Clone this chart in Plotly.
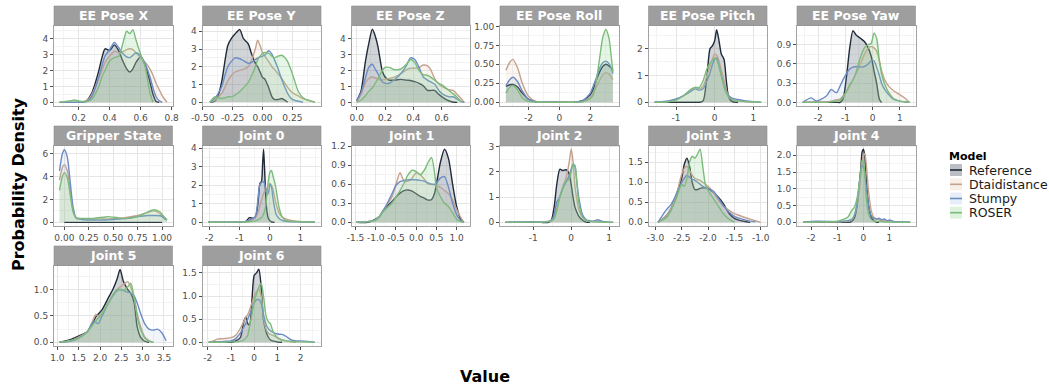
import plotly.graph_objects as go

# ---------------- data ----------------
models = ["Reference", "Dtaidistance", "Stumpy", "ROSER"]
panel_titles = ["EE Pose X", "EE Pose Y", "EE Pose Z", "EE Pose Roll", "EE Pose Pitch", "EE Pose Yaw",
                "Gripper State", "Joint 0", "Joint 1", "Joint 2", "Joint 3", "Joint 4",
                "Joint 5", "Joint 6"]
N = None

# EE Pose X
eex_x = [0.075, 0.15, 0.17, 0.20, 0.25, 0.28, 0.30, 0.33, 0.35, 0.37, 0.40, 0.43, 0.46, 0.48, 0.51, 0.53, 0.55, 0.57, 0.60, 0.63, 0.66, 0.68, 0.70, 0.72, 0.74, 0.77]
eex_ref = [0, 0, 0, 0, 0.1, 0.5, 1.0, 2.0, 2.8, 3.35, 3.25, 3.6, 3.2, 2.7, 2.1, 1.9, 2.1, 2.5, 2.85, 2.3, 1.3, 0.5, 0.05, 0, N, N]
eex_dtai = [0, 0, 0, 0, 0.1, 0.4, 0.8, 1.5, 2.0, 2.5, 2.9, 3.2, 3.1, 3.15, 3.3, 3.35, 3.3, 3.1, 2.8, 2.5, 2.1, 1.7, 1.2, 0.8, 0.4, 0]
eex_stumpy = [0, 0, 0, 0, 0.05, 0.3, 0.7, 1.6, 2.3, 2.9, 3.3, 3.75, 3.4, 3.1, 2.85, 2.8, 2.95, 3.1, 2.9, 2.4, 1.6, 0.9, 0.35, 0.1, 0, N]
eex_roser = [0, 0.1, 0.15, 0.08, 0.05, 0.15, 0.4, 1.0, 1.6, 2.0, 2.6, 2.8, 2.9, 3.5, 4.45, 4.3, 4.55, 3.9, 3.0, 2.2, 0.6, 0, N, N, N, N]
eex_ticks = [0.2, 0.4, 0.6, 0.8]
eex_labels = ["0.2", "0.4", "0.6", "0.8"]
eex_yticks = [0, 1, 2, 3, 4]
eex_ylabels = ["0", "1", "2", "3", "4"]

# EE Pose Y
eey_x = [-0.44, -0.40, -0.37, -0.34, -0.31, -0.29, -0.26, -0.23, -0.19, -0.16, -0.12, -0.09, -0.06, -0.04, -0.02, 0.0, 0.02, 0.05, 0.08, 0.10, 0.13, 0.16, 0.19, 0.21, 0.24, 0.27, 0.30, 0.34, 0.38, 0.44]
eey_ref = [0, 0.05, 0.4, 1.2, 2.5, 3.2, 3.6, 3.85, 4.1, 3.6, 3.3, 2.7, 2.2, 2.0, 1.7, 1.4, 1.3, 0.85, 0.3, 0.15, 0.15, 0.2, 0.1, 0, N, N, N, N, N, N]
eey_dtai = [0, 0.1, 0.3, 0.5, 0.9, 1.2, 1.5, 1.7, 1.8, 1.85, 2.0, 2.4, 3.0, 3.5, 3.2, 2.8, 2.6, 2.3, 2.0, 1.85, 1.6, 1.35, 1.05, 0.85, 0.6, 0.45, 0.35, 0.2, 0.12, 0]
eey_stumpy = [0, 0.2, 0.5, 0.9, 1.6, 2.0, 2.3, 2.5, 2.45, 2.35, 2.2, 2.25, 2.4, 2.5, 2.55, 2.6, 2.65, 2.9, 2.7, 2.4, 1.9, 1.3, 0.8, 0.5, 0.2, 0.1, 0.05, 0, N, N]
eey_roser = [0, 0.3, 0.25, 0.2, 0.25, 0.3, 0.3, 0.4, 0.6, 0.8, 1.1, 1.5, 2.0, 2.4, 2.6, 2.75, 2.8, 2.75, 2.6, 2.5, 2.6, 2.65, 2.5, 2.3, 1.8, 1.2, 0.6, 0.25, 0.1, 0]
eey_ticks = [-0.5, -0.25, 0.0, 0.25]
eey_labels = ["-0.50", "-0.25", "0.00", "0.25"]
eey_yticks = [0, 1, 2, 3, 4]
eey_ylabels = ["0", "1", "2", "3", "4"]

# EE Pose Z
eez_x = [0.0, 0.03, 0.06, 0.085, 0.11, 0.13, 0.15, 0.18, 0.2, 0.23, 0.27, 0.31, 0.35, 0.38, 0.41, 0.44, 0.47, 0.50, 0.52, 0.55, 0.58, 0.61, 0.65, 0.68, 0.71, 0.74, 0.76]
eez_ref = [0.1, 0.7, 2.5, 3.7, 4.6, 4.2, 3.5, 2.0, 1.6, 1.4, 1.4, 1.45, 1.4, 1.38, 1.3, 1.2, 1.05, 0.75, 0.75, 0.75, 0.5, 0.3, 0.1, 0.02, 0, N, N]
eez_dtai = [0.05, 0.5, 1.2, 1.5, 1.6, 1.55, 1.45, 1.4, 1.45, 1.5, 1.6, 1.8, 2.05, 2.15, 2.15, 2.2, 2.35, 2.3, 2.1, 1.5, 1.15, 0.95, 0.8, 0.75, 0.5, 0.2, 0]
eez_stumpy = [0.1, 0.6, 1.5, 2.2, 2.4, 2.1, 1.8, 1.3, 1.2, 1.2, 1.45, 1.8, 2.3, 2.8, 2.7, 2.2, 1.6, 1.4, 1.3, 1.15, 0.75, 0.5, 0.35, 0.35, 0.2, 0.05, 0]
eez_roser = [0, 0.15, 0.4, 0.7, 0.9, 1.2, 1.5, 2.0, 2.2, 2.2, 2.05, 2.1, 2.4, 2.7, 2.5, 2.0, 1.75, 1.7, 1.6, 1.4, 1.2, 1.05, 0.75, 0.55, 0.3, 0, N]
eez_ticks = [0.0, 0.2, 0.4, 0.6]
eez_labels = ["0.0", "0.2", "0.4", "0.6"]
eez_yticks = [0, 1, 2, 3, 4]
eez_ylabels = ["0", "1", "2", "3", "4"]

# EE Pose Roll
roll_x = [-3.46, -3.2, -3.0, -2.7, -2.4, -2.0, -1.5, -1.0, 0, 1.0, 1.5, 2.0, 2.2, 2.4, 2.6, 2.8, 3.0, 3.2, 3.35, 3.46]
roll_ref = [0.21, 0.23, 0.235, 0.2, 0.12, 0.04, 0.005, 0, 0, 0, 0.02, 0.1, 0.18, 0.3, 0.4, 0.47, 0.5, 0.48, 0.45, 0.42]
roll_dtai = [0.42, 0.53, 0.565, 0.45, 0.25, 0.08, 0.01, 0, 0, 0, 0.01, 0.06, 0.13, 0.2, 0.29, 0.36, 0.39, 0.37, 0.33, 0.3]
roll_stumpy = [0.22, 0.3, 0.33, 0.27, 0.15, 0.04, 0.005, 0, 0, 0, 0.02, 0.12, 0.22, 0.33, 0.45, 0.52, 0.54, 0.51, 0.45, 0.38]
roll_roser = [0.12, 0.2, 0.22, 0.16, 0.06, 0.01, 0, 0, 0, 0, 0.005, 0.05, 0.1, 0.3, 0.58, 0.85, 0.96, 0.85, 0.6, 0.4]
roll_ticks = [-2, 0, 2]
roll_labels = ["-2", "0", "2"]
roll_yticks = [0, 0.25, 0.5, 0.75, 1.0]
roll_ylabels = ["0.00", "0.25", "0.50", "0.75", "1.00"]

# EE Pose Pitch
pitch_x = [-1.55, -1.2, -1.0, -0.8, -0.6, -0.5, -0.4, -0.3, -0.2, -0.12, -0.06, 0.0, 0.05, 0.11, 0.17, 0.24, 0.3, 0.36, 0.45, 0.6, 0.8, 1.0, 1.2]
pitch_ref = [0, 0, 0, 0, 0, 0, 0, 0.05, 1.0, 2.0, 2.1, 2.3, 2.7, 2.3, 1.8, 1.6, 0.8, 0.2, 0.02, 0, N, N, N]
pitch_dtai = [0, 0.03, 0.1, 0.25, 0.45, 0.55, 0.5, 0.6, 1.0, 1.35, 1.6, 1.8, 1.75, 1.55, 1.2, 0.8, 0.45, 0.25, 0.1, 0.05, 0.02, 0, N]
pitch_stumpy = [0, 0.05, 0.12, 0.25, 0.42, 0.5, 0.45, 0.5, 0.8, 1.1, 1.4, 1.6, 1.65, 1.35, 1.0, 0.6, 0.35, 0.25, 0.15, 0.1, 0.05, 0.02, 0]
pitch_roser = [0, 0.02, 0.08, 0.25, 0.5, 0.55, 0.55, 0.8, 1.25, 1.45, 1.55, 1.65, 1.6, 1.35, 1.0, 0.6, 0.35, 0.2, 0.1, 0.05, 0.03, 0.02, 0]
pitch_ticks = [-1, 0, 1]
pitch_labels = ["-1", "0", "1"]
pitch_yticks = [0, 1, 2]
pitch_ylabels = ["0", "1", "2"]

# EE Pose Yaw
yaw_x = [-2.57, -2.26, -2.07, -1.7, -1.52, -1.33, -1.2, -1.09, -0.96, -0.84, -0.72, -0.6, -0.45, -0.3, -0.16, -0.05, 0.05, 0.15, 0.25, 0.33, 0.45, 0.6, 0.77, 1.0, 1.15, 1.36]
yaw_ref = [0, 0, 0, 0, 0, 0, 0, 0.05, 0.4, 0.85, 1.12, 1.05, 1.0, 0.95, 0.85, 0.72, 0.5, 0.3, 0.05, 0, N, N, N, N, N, N]
yaw_dtai = [0, 0.005, 0.01, 0.01, 0.02, 0.04, 0.05, 0.1, 0.16, 0.25, 0.35, 0.45, 0.6, 0.75, 0.85, 0.87, 0.85, 0.8, 0.65, 0.5, 0.35, 0.25, 0.18, 0.12, 0.08, 0]
yaw_stumpy = [0, 0.07, 0.02, 0.1, 0.2, 0.15, 0.25, 0.35, 0.45, 0.52, 0.55, 0.56, 0.55, 0.56, 0.6, 0.65, 0.65, 0.55, 0.42, 0.3, 0.2, 0.12, 0.05, 0.02, 0.01, 0]
yaw_roser = [0, 0, 0, 0, 0.01, 0.02, 0.03, 0.08, 0.17, 0.28, 0.35, 0.48, 0.7, 0.85, 0.9, 0.92, 1.08, 1.0, 0.65, 0.45, 0.28, 0.15, 0.06, 0.02, 0.01, 0]
yaw_ticks = [-2, -1, 0, 1]
yaw_labels = ["-2", "-1", "0", "1"]
yaw_yticks = [0, 0.3, 0.6, 0.9]
yaw_ylabels = ["0.0", "0.3", "0.6", "0.9"]

# Gripper State
grip_x = [-0.05, -0.02, 0.0, 0.03, 0.06, 0.09, 0.12, 0.2, 0.3, 0.4, 0.45, 0.55, 0.65, 0.75, 0.85, 0.92, 0.98, 1.0, 1.02, 1.05]
grip_ref = [N, N, 0, 0, 0, 0, 0, 0, 0, 0, 0, 0, 0, 0, 0, 0, 0, 0, N, N]
grip_dtai = [3.7, 4.8, 5.05, 4.5, 2.8, 1.0, 0.35, 0.3, 0.3, 0.3, 0.3, 0.35, 0.45, 0.6, 0.85, 1.0, 0.75, 0.6, 0.45, 0.25]
grip_stumpy = [4.5, 6.0, 6.35, 5.7, 3.5, 1.3, 0.4, 0.22, 0.2, 0.2, 0.22, 0.28, 0.35, 0.5, 0.6, 0.6, 0.58, 0.5, 0.35, 0.2]
grip_roser = [2.8, 4.0, 4.35, 3.9, 2.4, 0.9, 0.4, 0.35, 0.35, 0.45, 0.5, 0.4, 0.35, 0.5, 0.9, 1.1, 0.9, 0.7, 0.5, 0.2]
grip_ticks = [0, 0.25, 0.5, 0.75, 1.0]
grip_labels = ["0.00", "0.25", "0.50", "0.75", "1.00"]
grip_yticks = [0, 2, 4, 6]
grip_ylabels = ["0", "2", "4", "6"]

# Joint 0
j0_x = [-2.03, -1.0, -0.8, -0.68, -0.57, -0.49, -0.44, -0.38, -0.33, -0.28, -0.24, -0.21, -0.18, -0.14, -0.1, -0.05, 0.0, 0.05, 0.1, 0.15, 0.2, 0.3, 0.4, 0.5, 0.7, 1.0, 1.48]
j0_ref = [0, 0, 0.03, 0.25, 0.22, 0.25, 0.45, 1.3, 2.1, 2.2, 3.2, 3.95, 3.0, 1.5, 0.6, 0.2, 0.08, 0.03, 0.01, 0, N, N, N, N, N, N, N]
j0_dtai = [0, 0.01, 0.03, 0.08, 0.15, 0.25, 0.35, 0.6, 0.9, 1.2, 1.4, 1.55, 1.65, 1.7, 1.85, 2.0, 2.1, 2.0, 1.8, 1.4, 1.0, 0.5, 0.3, 0.2, 0.1, 0.04, 0]
j0_stumpy = [0, 0.01, 0.05, 0.12, 0.2, 0.3, 0.6, 1.5, 2.05, 2.15, 2.2, 2.2, 2.1, 1.8, 1.5, 1.6, 2.05, 1.9, 1.3, 0.8, 0.45, 0.2, 0.1, 0.06, 0.03, 0.02, 0]
j0_roser = [0, 0.01, 0.02, 0.03, 0.05, 0.08, 0.1, 0.15, 0.2, 0.25, 0.35, 0.45, 0.6, 0.9, 1.5, 2.3, 2.7, 2.8, 2.5, 2.2, 1.8, 0.8, 0.3, 0.12, 0.05, 0.03, 0]
j0_ticks = [-2, -1, 0, 1]
j0_labels = ["-2", "-1", "0", "1"]
j0_yticks = [0, 1, 2, 3, 4]
j0_ylabels = ["0", "1", "2", "3", "4"]

# Joint 1
j1_x = [-1.48, -1.2, -1.0, -0.9, -0.8, -0.7, -0.6, -0.5, -0.4, -0.3, -0.2, -0.1, 0.0, 0.1, 0.2, 0.3, 0.38, 0.45, 0.5, 0.6, 0.7, 0.8, 0.9, 1.0, 1.1, 1.18]
j1_ref = [0, 0, 0.05, 0.1, 0.2, 0.27, 0.33, 0.4, 0.46, 0.5, 0.51, 0.49, 0.45, 0.41, 0.38, 0.35, 0.36, 0.45, 0.6, 0.95, 1.15, 1.0, 0.6, 0.25, 0.05, 0]
j1_dtai = [0, 0.01, 0.04, 0.1, 0.2, 0.3, 0.4, 0.6, 0.78, 0.65, 0.65, 0.7, 0.78, 0.75, 0.68, 0.6, 0.6, 0.59, 0.58, 0.55, 0.5, 0.45, 0.35, 0.2, 0.08, 0]
j1_stumpy = [0, 0.01, 0.04, 0.1, 0.2, 0.32, 0.45, 0.58, 0.64, 0.66, 0.67, 0.67, 0.67, 0.66, 0.65, 0.62, 0.6, 0.6, 0.62, 0.7, 0.72, 0.55, 0.3, 0.12, 0.03, 0]
j1_roser = [0, 0.01, 0.04, 0.1, 0.18, 0.24, 0.3, 0.4, 0.5, 0.62, 0.75, 0.82, 0.8, 0.75, 0.82, 0.95, 1.02, 0.8, 0.55, 0.4, 0.3, 0.25, 0.15, 0.05, 0.01, 0]
j1_ticks = [-1.5, -1.0, -0.5, 0.0, 0.5, 1.0]
j1_labels = ["-1.5", "-1.0", "-0.5", "0.0", "0.5", "1.0"]
j1_yticks = [0, 0.3, 0.6, 0.9, 1.2]
j1_ylabels = ["0.0", "0.3", "0.6", "0.9", "1.2"]

# Joint 2
j2_x = [-1.74, -1.1, -0.8, -0.6, -0.52, -0.45, -0.38, -0.3, -0.22, -0.15, -0.1, -0.05, 0.0, 0.05, 0.1, 0.15, 0.2, 0.3, 0.4, 0.5, 0.6, 0.7, 0.8, 1.0, 1.11]
j2_ref = [0, 0, 0, 0, 0.1, 0.6, 1.5, 2.1, 2.05, 2.08, 2.05, 1.9, 1.5, 1.0, 0.6, 0.4, 0.25, 0.08, 0.01, 0, N, N, N, N, N]
j2_dtai = [0, 0.01, 0.01, 0.05, 0.1, 0.2, 0.55, 1.0, 1.4, 1.7, 2.0, 2.4, 2.9, 2.4, 1.4, 0.9, 0.5, 0.2, 0.08, 0.05, 0.04, 0.03, 0.02, 0.01, 0]
j2_stumpy = [0, 0.03, 0.01, 0.03, 0.08, 0.3, 0.8, 1.0, 1.35, 1.55, 1.7, 1.85, 2.1, 2.3, 2.2, 1.6, 1.0, 0.3, 0.1, 0.06, 0.05, 0.1, 0.05, 0.01, 0]
j2_roser = [0, 0.01, 0.01, 0.03, 0.06, 0.15, 0.45, 1.0, 1.4, 1.6, 1.65, 1.75, 2.0, 2.3, 2.25, 1.6, 0.8, 0.2, 0.08, 0.03, 0.02, 0.01, 0.01, 0, 0]
j2_ticks = [-1, 0, 1]
j2_labels = ["-1", "0", "1"]
j2_yticks = [0, 1, 2, 3]
j2_ylabels = ["0", "1", "2", "3"]

# Joint 3
j3_x = [-2.95, -2.8, -2.7, -2.6, -2.5, -2.45, -2.4, -2.35, -2.3, -2.25, -2.2, -2.15, -2.1, -2.05, -2.0, -1.9, -1.8, -1.7, -1.6, -1.5, -1.4, -1.3, -1.2, -1.1, -1.0]
j3_ref = [0, 0.15, 0.35, 0.7, 1.1, 1.45, 1.6, 1.4, 1.0, 0.82, 0.82, 0.85, 0.86, 0.86, 0.85, 0.75, 0.62, 0.45, 0.22, 0.1, 0.05, 0.02, 0, N, N]
j3_dtai = [0, 0.15, 0.35, 0.7, 1.2, 1.35, 1.4, 1.3, 1.18, 1.1, 1.07, 1.05, 1.0, 0.95, 0.9, 0.75, 0.55, 0.4, 0.3, 0.22, 0.17, 0.12, 0.08, 0.04, 0]
j3_stumpy = [0, 0.3, 0.45, 0.7, 1.0, 1.1, 1.18, 1.12, 1.08, 1.05, 1.0, 0.95, 0.9, 0.87, 0.85, 0.78, 0.6, 0.4, 0.25, 0.15, 0.1, 0.06, 0.03, 0.01, N]
j3_roser = [0, 0.1, 0.3, 0.6, 0.95, 0.9, 1.1, 1.5, 1.65, 1.6, 1.7, 1.83, 1.4, 0.95, 0.8, 0.6, 0.4, 0.2, 0.08, 0, N, N, N, N, N]
j3_ticks = [-3.0, -2.5, -2.0, -1.5, -1.0]
j3_labels = ["-3.0", "-2.5", "-2.0", "-1.5", "-1.0"]
j3_yticks = [0, 0.5, 1.0, 1.5]
j3_ylabels = ["0.0", "0.5", "1.0", "1.5"]

# Joint 4
j4_x = [-2.3, -1.8, -1.0, -0.8, -0.6, -0.45, -0.35, -0.25, -0.15, -0.1, -0.05, 0.0, 0.05, 0.1, 0.15, 0.2, 0.3, 0.4, 0.5, 0.6, 0.7, 0.8, 0.9, 1.0, 1.2, 1.5, 1.8]
j4_ref = [0, 0, 0, 0, 0, 0.03, 0.12, 0.45, 1.2, 1.6, 2.1, 2.18, 2.0, 1.4, 0.9, 0.5, 0.15, 0.05, 0.01, 0, N, N, N, N, N, N, N]
j4_dtai = [0, 0.01, 0.01, 0.02, 0.03, 0.08, 0.2, 0.5, 1.0, 1.4, 1.75, 2.0, 2.05, 1.8, 1.35, 0.9, 0.35, 0.15, 0.1, 0.07, 0.06, 0.05, 0.04, 0.03, 0.02, 0.01, 0]
j4_stumpy = [0, 0.03, 0.02, 0.03, 0.05, 0.08, 0.2, 0.55, 1.2, 1.5, 1.7, 1.65, 1.5, 1.1, 0.8, 0.5, 0.2, 0.12, 0.1, 0.12, 0.08, 0.1, 0.05, 0.07, 0.02, 0.01, 0]
j4_roser = [0, 0.01, 0.03, 0.08, 0.15, 0.35, 0.45, 0.7, 1.2, 1.5, 1.85, 1.8, 1.5, 0.8, 0.45, 0.25, 0.08, 0.04, 0.03, 0.02, 0.02, 0.01, 0.01, 0.01, 0, 0, 0]
j4_ticks = [-2, -1, 0, 1]
j4_labels = ["-2", "-1", "0", "1"]
j4_yticks = [0, 0.5, 1.0, 1.5, 2.0]
j4_ylabels = ["0.0", "0.5", "1.0", "1.5", "2.0"]

# Joint 5
j5_x = [1.05, 1.3, 1.5, 1.7, 1.85, 1.9, 1.95, 2.05, 2.2, 2.3, 2.4, 2.47, 2.55, 2.65, 2.72, 2.8, 2.87, 2.95, 3.05, 3.15, 3.25, 3.35, 3.45, 3.55]
j5_ref = [0, 0.05, 0.12, 0.2, 0.4, 0.48, 0.53, 0.62, 0.85, 1.0, 1.2, 1.38, 1.15, 1.0, 0.93, 0.75, 0.3, 0.1, 0.02, 0, N, N, N, N]
j5_dtai = [0, 0.03, 0.1, 0.2, 0.45, 0.53, 0.5, 0.55, 0.75, 0.88, 1.0, 1.05, 1.1, 1.15, 1.05, 0.85, 0.55, 0.3, 0.1, 0.03, 0, N, N, N]
j5_stumpy = [0, 0.02, 0.08, 0.2, 0.4, 0.38, 0.35, 0.5, 0.75, 0.88, 0.98, 1.0, 0.98, 0.95, 0.93, 0.88, 0.75, 0.55, 0.35, 0.25, 0.23, 0.25, 0.18, 0.03]
j5_roser = [0, 0.03, 0.08, 0.2, 0.35, 0.4, 0.45, 0.55, 0.75, 0.9, 1.0, 1.0, 0.98, 1.05, 1.12, 0.85, 0.5, 0.25, 0.08, 0.02, 0, N, N, N]
j5_ticks = [1.0, 1.5, 2.0, 2.5, 3.0, 3.5]
j5_labels = ["1.0", "1.5", "2.0", "2.5", "3.0", "3.5"]
j5_yticks = [0, 0.5, 1.0]
j5_ylabels = ["0.0", "0.5", "1.0"]

# Joint 6
j6_x = [-1.96, -1.75, -1.6, -1.3, -1.0, -0.8, -0.6, -0.45, -0.35, -0.28, -0.2, -0.1, 0.0, 0.1, 0.2, 0.3, 0.4, 0.5, 0.6, 0.7, 0.8, 1.0, 1.2, 1.4, 1.6, 1.8, 2.0, 2.3, 2.61]
j6_ref = [0, 0, 0, 0, 0, 0.03, 0.1, 0.45, 0.55, 0.4, 0.38, 0.9, 1.45, 1.5, 1.58, 1.2, 0.5, 0.25, 0.12, 0.05, 0.03, 0.01, 0, N, N, N, N, N, N]
j6_dtai = [0, 0.03, 0.07, 0.08, 0.1, 0.15, 0.3, 0.45, 0.55, 0.6, 0.7, 0.85, 1.0, 1.1, 1.15, 1.0, 0.55, 0.3, 0.2, 0.17, 0.15, 0.1, 0.05, 0.03, 0.01, 0, N, N, N]
j6_stumpy = [0, 0.005, 0.01, 0.02, 0.03, 0.08, 0.2, 0.33, 0.42, 0.5, 0.6, 0.72, 0.85, 0.92, 0.92, 0.85, 0.6, 0.4, 0.3, 0.25, 0.22, 0.18, 0.17, 0.12, 0.05, 0.03, 0.03, 0.02, 0]
j6_roser = [0, 0, 0, 0, 0.01, 0.01, 0.02, 0.05, 0.1, 0.15, 0.35, 0.6, 0.9, 1.05, 1.2, 1.28, 1.0, 0.6, 0.45, 0.4, 0.25, 0.1, 0.05, 0.03, 0.02, 0.01, 0.01, 0.005, 0]
j6_ticks = [-2, -1, 0, 1, 2]
j6_labels = ["-2", "-1", "0", "1", "2"]
j6_yticks = [0, 0.5, 1.0, 1.5]
j6_ylabels = ["0.0", "0.5", "1.0", "1.5"]

panel_data = [
    (eex_x, [eex_ref, eex_dtai, eex_stumpy, eex_roser], eex_ticks, eex_labels, eex_yticks, eex_ylabels),
    (eey_x, [eey_ref, eey_dtai, eey_stumpy, eey_roser], eey_ticks, eey_labels, eey_yticks, eey_ylabels),
    (eez_x, [eez_ref, eez_dtai, eez_stumpy, eez_roser], eez_ticks, eez_labels, eez_yticks, eez_ylabels),
    (roll_x, [roll_ref, roll_dtai, roll_stumpy, roll_roser], roll_ticks, roll_labels, roll_yticks, roll_ylabels),
    (pitch_x, [pitch_ref, pitch_dtai, pitch_stumpy, pitch_roser], pitch_ticks, pitch_labels, pitch_yticks, pitch_ylabels),
    (yaw_x, [yaw_ref, yaw_dtai, yaw_stumpy, yaw_roser], yaw_ticks, yaw_labels, yaw_yticks, yaw_ylabels),
    (grip_x, [grip_ref, grip_dtai, grip_stumpy, grip_roser], grip_ticks, grip_labels, grip_yticks, grip_ylabels),
    (j0_x, [j0_ref, j0_dtai, j0_stumpy, j0_roser], j0_ticks, j0_labels, j0_yticks, j0_ylabels),
    (j1_x, [j1_ref, j1_dtai, j1_stumpy, j1_roser], j1_ticks, j1_labels, j1_yticks, j1_ylabels),
    (j2_x, [j2_ref, j2_dtai, j2_stumpy, j2_roser], j2_ticks, j2_labels, j2_yticks, j2_ylabels),
    (j3_x, [j3_ref, j3_dtai, j3_stumpy, j3_roser], j3_ticks, j3_labels, j3_yticks, j3_ylabels),
    (j4_x, [j4_ref, j4_dtai, j4_stumpy, j4_roser], j4_ticks, j4_labels, j4_yticks, j4_ylabels),
    (j5_x, [j5_ref, j5_dtai, j5_stumpy, j5_roser], j5_ticks, j5_labels, j5_yticks, j5_ylabels),
    (j6_x, [j6_ref, j6_dtai, j6_stumpy, j6_roser], j6_ticks, j6_labels, j6_yticks, j6_ylabels),
]

# ---------------- styling / layout ----------------
FONT = "DejaVu Sans"
W, H = 1049, 389
line_colors = ["#1f2b3a", "#c4a28e", "#6b8cc4", "#7dbb7d"]
fill_colors = ["#1f2b3a", "#dead8a", "#8eacd7", "#8ed78e"]
fill_alphas = [0.2, 0.12, 0.12, 0.22]
key_alphas = [0.3, 0.2, 0.2, 0.3]

def rgba(hexc, a):
    h = hexc.lstrip("#")
    return "rgba(%d,%d,%d,%.3f)" % (int(h[0:2], 16), int(h[2:4], 16), int(h[4:6], 16), a)

x_ranges = [[0.04, 0.806], [-0.502, 0.49], [-0.037, 0.80], [-3.84, 3.82], [-1.71, 1.35], [-2.78, 1.58],
            [-0.106, 1.107], [-2.22, 1.68], [-1.6, 1.33], [-1.88, 1.25], [-3.13, -0.88], [-2.55, 2.0],
            [0.92, 3.70], [-2.23, 2.88]]
y_ranges = [[-0.23, 4.81], [-0.22, 4.33], [-0.23, 4.84], [-0.05, 1.012], [-0.14, 2.86], [-0.057, 1.2],
            [-0.32, 6.72], [-0.2, 4.15], [-0.058, 1.21], [-0.145, 3.04], [-0.092, 1.92], [-0.11, 2.29],
            [-0.07, 1.455], [-0.08, 1.66]]

col_x0 = [54, 202.5, 351.5, 500, 648.5, 797]
panel_w = 118.5
row_top = [25.5, 145.5, 265.5]
panel_h = 80.5
strip_h = 19.5

fig = go.Figure()
layout = dict(
    template="none",
    width=W, height=H, autosize=False,
    margin=dict(l=0, r=0, t=0, b=0, pad=0),
    paper_bgcolor="white", plot_bgcolor="white",
    showlegend=False,
    font=dict(family=FONT, color="#4d4d4d"),
)
shapes = []
annotations = []

def minor_vals(ticks, rng):
    if len(ticks) < 2:
        return []
    step = ticks[1] - ticks[0]
    vals = [t + step / 2 for t in ticks] + [ticks[0] - step / 2]
    return [v for v in vals if rng[0] <= v <= rng[1]]

for i, (xs, series, xt, xl, yt, yl) in enumerate(panel_data):
    for s in series:
        assert len(s) == len(xs), (i, len(s), len(xs))
    n = i + 1
    r, c = divmod(i, 6)
    x0 = col_x0[c]
    top = row_top[r]
    xd = [x0 / W, (x0 + panel_w) / W]
    yd = [1 - (top + panel_h) / H, 1 - top / H]
    xs_key = "xaxis" if n == 1 else "xaxis%d" % n
    ys_key = "yaxis" if n == 1 else "yaxis%d" % n
    common = dict(showgrid=True, gridcolor="#e5e5e5", gridwidth=1, zeroline=False,
                  showline=True, mirror=True, linecolor="#a3a3a3", linewidth=1,
                  ticks="outside", ticklen=3, tickwidth=1, tickcolor="#4d4d4d",
                  tickfont=dict(size=9, color="#4d4d4d", family=FONT), fixedrange=True,
                  tickmode="array", automargin=False)
    layout[xs_key] = dict(common, domain=xd, range=x_ranges[i], tickvals=xt, ticktext=xl,
                          anchor="y%d" % n,
                          minor=dict(tickmode="array", tickvals=minor_vals(xt, x_ranges[i]),
                                     showgrid=True, gridcolor="#f3f3f3", gridwidth=0.6, ticks=""))
    layout[ys_key] = dict(common, domain=yd, range=y_ranges[i], tickvals=yt, ticktext=yl,
                          anchor="x%d" % n,
                          minor=dict(tickmode="array", tickvals=minor_vals(yt, y_ranges[i]),
                                     showgrid=True, gridcolor="#f3f3f3", gridwidth=0.6, ticks=""))
    for k, s in enumerate(series):
        px = [xv for xv, yv in zip(xs, s) if yv is not None]
        py = [yv for yv in s if yv is not None]
        fig.add_trace(go.Scatter(
            x=px, y=py, mode="lines", name=models[k],
            line=dict(color=line_colors[k], width=1.4, shape="spline", smoothing=0.7),
            fill="tozeroy", fillcolor=rgba(fill_colors[k], fill_alphas[k]),
            hoverinfo="skip",
            xaxis="x%d" % n, yaxis="y%d" % n, showlegend=False))
    shapes.append(dict(type="rect", xref="paper", yref="paper",
                       x0=xd[0], x1=xd[1], y0=1 - top / H, y1=1 - (top - strip_h) / H,
                       fillcolor="#9e9e9e", line=dict(color="#8f8f8f", width=0.6)))
    annotations.append(dict(xref="paper", yref="paper", x=(xd[0] + xd[1]) / 2,
                            y=1 - (top - strip_h / 2) / H, text="<b>%s</b>" % panel_titles[i],
                            showarrow=False, xanchor="center", yanchor="middle",
                            font=dict(family=FONT, size=12.5, color="white")))

annotations.append(dict(xref="paper", yref="paper", x=485 / W, y=1 - 376 / H, text="<b>Value</b>",
                        showarrow=False, xanchor="center", yanchor="middle",
                        font=dict(family=FONT, size=16, color="black")))
annotations.append(dict(xref="paper", yref="paper", x=18 / W, y=1 - 184 / H,
                        text="<b>Probability Density</b>", textangle=-90,
                        showarrow=False, xanchor="center", yanchor="middle",
                        font=dict(family=FONT, size=16, color="black")))

annotations.append(dict(xref="paper", yref="paper", x=947 / W, y=1 - 156.5 / H, text="<b>Model</b>",
                        showarrow=False, xanchor="left", yanchor="middle",
                        font=dict(family=FONT, size=11, color="black")))
leg_y = [170, 184.3, 198.5, 212.7]
for k, m in enumerate(models):
    yc = leg_y[k]
    shapes.append(dict(type="rect", xref="paper", yref="paper",
                       x0=950 / W, x1=962 / W, y0=1 - (yc + 6) / H, y1=1 - (yc - 6) / H,
                       fillcolor=rgba(fill_colors[k], key_alphas[k]), line=dict(width=0)))
    shapes.append(dict(type="line", xref="paper", yref="paper",
                       x0=950 / W, x1=962 / W, y0=1 - yc / H, y1=1 - yc / H,
                       line=dict(color=line_colors[k], width=1.6)))
    annotations.append(dict(xref="paper", yref="paper", x=967 / W, y=1 - yc / H, text=m,
                            showarrow=False, xanchor="left", yanchor="middle",
                            font=dict(family=FONT, size=12.5, color="#1a1a1a")))

layout["shapes"] = shapes
layout["annotations"] = annotations
fig.update_layout(**layout)
fig.write_html("out.html",
               config={"displayModeBar": False, "staticPlot": False},
               post_script="document.body.style.margin='0';document.body.style.padding='0';"
                           "document.body.style.overflow='hidden';"
                           "document.documentElement.style.overflow='hidden';")
